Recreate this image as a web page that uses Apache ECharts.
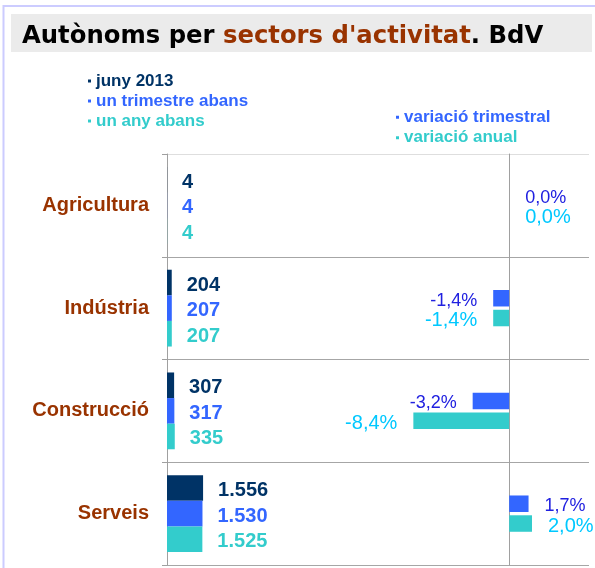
<!DOCTYPE html>
<html>
<head>
<meta charset="utf-8">
<title>Autònoms per sectors d'activitat. BdV</title>
<script src="https://cdn.jsdelivr.net/npm/echarts@6.0.0/dist/echarts.min.js"></script>
<style>
  html, body { margin: 0; padding: 0; background: #fff; }
  #chart { width: 595px; height: 568px; }
</style>
</head>
<body>
<div id="chart"></div>
<script>
// dades
var sectors = ['Agricultura', 'Indústria', 'Construcció', 'Serveis'];
var juny2013 = [4, 204, 307, 1556];
var unTrimestreAbans = [4, 207, 317, 1530];
var unAnyAbans = [4, 207, 335, 1525];
var variacioTrimestral = [0.0, -1.4, -3.2, 1.7];
var variacioAnual = [0.0, -1.4, -8.4, 2.0];
var nomsValors = ['juny 2013', 'un trimestre abans', 'un any abans'];
var nomsVariacio = ['variació trimestral', 'variació anual'];

var FONT = 'Liberation Sans';
var DARK = '#003366', BLUE = '#3366ff', TEAL = '#33cccc';
var BROWN = '#993300', LINE = '#a0a0a0';

function milers(v) {
    return String(v).replace(/\B(?=(\d{3})+(?!\d))/g, '.');
}
function percent(v) {
    return v.toFixed(1).replace('.', ',') + '%';
}

function serieValors(name, data, color) {
    return {
        name: name, type: 'bar', xAxisIndex: 0, yAxisIndex: 0,
        data: data, barWidth: 25.6, barGap: '0%',
        itemStyle: { color: color },
        label: {
            show: true, position: 'right', distance: 15, offset: [0, 2.5],
            color: color, fontFamily: FONT, fontWeight: 'bold', fontSize: 20,
            formatter: function (p) { return milers(p.value); }
        }
    };
}

function serieVariacio(name, vals, color, labelColor, labelSize) {
    return {
        name: name, type: 'bar', xAxisIndex: 1, yAxisIndex: 1,
        data: vals.map(function (v) {
            return { value: v, label: { position: v < 0 ? 'left' : 'right' } };
        }),
        barWidth: 16.5, barGap: '20%',
        itemStyle: { color: color },
        label: {
            show: true, distance: 16, offset: [0, 2.5],
            color: labelColor, fontFamily: FONT, fontSize: labelSize,
            formatter: function (p) { return percent(p.value); }
        }
    };
}

function legendItems(names, colors) {
    return names.map(function (n, i) {
        return { name: n, textStyle: { color: colors[i] } };
    });
}

var chart = echarts.init(document.getElementById('chart'), null, { renderer: 'canvas' });

var titleStyle = { fontFamily: 'DejaVu Sans', fontWeight: 'bold', fontSize: 24.3, lineHeight: 30 };

var option = {
    animation: false,
    backgroundColor: '#ffffff',
    title: {
        left: 22, top: 22, padding: 0,
        text: '{a|Autònoms per }{b|sectors d\'activitat}{a|. BdV}',
        textStyle: {
            rich: {
                a: Object.assign({ color: '#000000' }, titleStyle),
                b: Object.assign({ color: BROWN }, titleStyle)
            }
        }
    },
    graphic: [
        { type: 'rect', z: -10, shape: { x: 3.5, y: 6, width: 600, height: 600 },
          style: { fill: null, stroke: '#ccccff', lineWidth: 2 } },
        { type: 'rect', z: -10, shape: { x: 11, y: 14, width: 581, height: 38 },
          style: { fill: '#ebebeb' } }
    ],
    legend: [
        {
            orient: 'vertical', left: 88, top: 71, padding: 0, itemGap: 0,
            icon: 'rect', itemWidth: 3, itemHeight: 3, selectedMode: false,
            textStyle: { fontFamily: FONT, fontWeight: 'bold', fontSize: 17, lineHeight: 20 },
            data: legendItems(nomsValors, [DARK, BLUE, TEAL])
        },
        {
            orient: 'vertical', left: 396, top: 107, padding: 0, itemGap: 0,
            icon: 'rect', itemWidth: 3, itemHeight: 3, selectedMode: false,
            textStyle: { fontFamily: FONT, fontWeight: 'bold', fontSize: 17, lineHeight: 20.5 },
            data: legendItems(nomsVariacio, [BLUE, TEAL])
        }
    ],
    grid: [
        { left: 167, right: 6, top: 154, bottom: 3 },
        { left: 167, right: 6, top: 154, bottom: 3 }
    ],
    xAxis: [
        { type: 'value', gridIndex: 0, min: 0, max: 18200, show: false },
        { type: 'value', gridIndex: 1, min: -30, max: 7, show: false }
    ],
    yAxis: [
        {
            type: 'category', gridIndex: 0, data: sectors, inverse: true,
            axisLine: { show: true, lineStyle: { color: LINE, width: 1 } },
            axisTick: { show: true, length: 5, lineStyle: { color: LINE } },
            splitLine: { show: true, interval: 0,
                lineStyle: { color: ['#dedede', '#a6a6a6', '#a6a6a6', '#a6a6a6', '#a6a6a6'] } },
            axisLabel: { margin: 18, color: BROWN, fontFamily: FONT, fontWeight: 'bold', fontSize: 20,
                padding: [3, 0, 0, 0] }
        },
        {
            type: 'category', gridIndex: 1, data: sectors, inverse: true,
            axisLine: { show: true, onZero: true, lineStyle: { color: LINE, width: 1 } },
            axisTick: { show: false },
            axisLabel: { show: false },
            splitLine: { show: false }
        }
    ],
    series: [
        serieValors(nomsValors[0], juny2013, DARK),
        serieValors(nomsValors[1], unTrimestreAbans, BLUE),
        serieValors(nomsValors[2], unAnyAbans, TEAL),
        serieVariacio(nomsVariacio[0], variacioTrimestral, BLUE, '#2020e0', 18),
        serieVariacio(nomsVariacio[1], variacioAnual, TEAL, '#00c8ff', 20)
    ]
};

chart.setOption(option);
</script>
</body>
</html>
